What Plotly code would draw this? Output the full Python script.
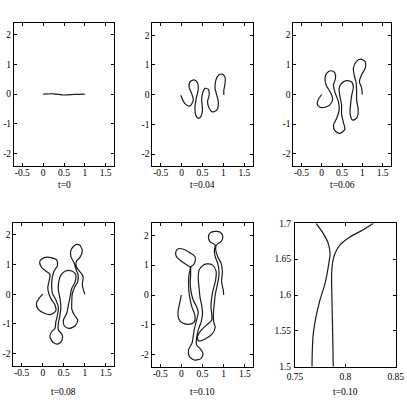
import plotly.graph_objects as go

W, H = 407, 402

# ---------------- data ----------------
# t = 0
x_t000 = [0.0, 0.25, 0.5, 0.75, 1.0]
y_t000 = [0.0, 0.01, -0.03, -0.01, 0.0]

# t = 0.04
x_t004 = [-0.02, 0.08, 0.20, 0.28, 0.24, 0.18, 0.20, 0.30, 0.38, 0.40, 0.36, 0.32, 0.34, 0.40,
          0.46, 0.50, 0.48, 0.50, 0.56, 0.64, 0.66, 0.62, 0.66, 0.73, 0.84, 0.88, 0.84, 0.80,
          0.82, 0.89, 0.97, 1.04, 1.04, 1.01, 1.01]
y_t004 = [-0.02, -0.30, -0.38, -0.18, 0.04, 0.25, 0.43, 0.50, 0.40, 0.21, -0.07, -0.41, -0.69, -0.80,
          -0.74, -0.52, -0.18, 0.04, 0.21, 0.18, -0.01, -0.24, -0.46, -0.58, -0.52, -0.29, -0.01, 0.21,
          0.49, 0.66, 0.69, 0.58, 0.38, 0.15, -0.01]

# t = 0.06
x_t006 = [0.0, -0.08, -0.11, -0.04, 0.08, 0.20, 0.27, 0.22, 0.12, 0.08, 0.12, 0.22, 0.32, 0.34,
          0.29, 0.33, 0.41, 0.43, 0.37, 0.29, 0.33, 0.45, 0.57, 0.53, 0.49, 0.49, 0.45, 0.43,
          0.49, 0.62, 0.74, 0.78, 0.74, 0.71, 0.70, 0.76, 0.86, 0.90, 0.86, 0.86, 0.85, 0.80,
          0.78, 0.85, 0.96, 1.07, 1.07, 0.98, 0.93, 0.98, 1.0]
y_t006 = [0.0, -0.16, -0.32, -0.43, -0.43, -0.35, -0.16, 0.06, 0.29, 0.51, 0.71, 0.80, 0.74, 0.55,
          0.32, 0.06, -0.24, -0.52, -0.80, -1.03, -1.23, -1.31, -1.17, -0.92, -0.66, -0.35, -0.07, 0.21,
          0.38, 0.47, 0.42, 0.24, -0.02, -0.35, -0.66, -0.86, -0.80, -0.52, -0.19, 0.10, 0.38, 0.66,
          0.88, 1.11, 1.19, 1.11, 0.88, 0.66, 0.43, 0.24, 0.0]

# t = 0.08
x_t008 = [0.0, -0.09, -0.15, -0.11, 0.04, 0.19, 0.31, 0.29, 0.21, 0.15, 0.12, 0.15, 0.17, 0.07,
          -0.04, -0.07, 0.04, 0.19, 0.33, 0.35, 0.27, 0.23, 0.21, 0.23, 0.31, 0.37, 0.35, 0.31,
          0.29, 0.21, 0.17, 0.25, 0.37, 0.46, 0.46, 0.37, 0.37, 0.41, 0.43, 0.41, 0.37, 0.38,
          0.43, 0.54, 0.69, 0.78, 0.77, 0.69, 0.65, 0.61, 0.57, 0.49, 0.51, 0.62, 0.77, 0.83,
          0.75, 0.69, 0.69, 0.70, 0.75, 0.83, 0.84, 0.78, 0.75, 0.67, 0.67, 0.78, 0.88, 0.94,
          0.88, 0.80, 0.80, 0.88, 0.96, 0.94, 1.0]
y_t008 = [0.0, -0.14, -0.31, -0.50, -0.64, -0.68, -0.56, -0.36, -0.19, 0.0, 0.22, 0.44, 0.67, 0.78,
          0.92, 1.11, 1.23, 1.23, 1.15, 0.96, 0.78, 0.59, 0.31, 0.03, -0.19, -0.42, -0.70, -0.94,
          -1.15, -1.26, -1.43, -1.62, -1.67, -1.54, -1.35, -1.20, -0.98, -0.70, -0.42, -0.14, 0.14, 0.42,
          0.64, 0.78, 0.78, 0.67, 0.42, 0.20, -0.08, -0.36, -0.64, -0.87, -1.06, -1.15, -1.06, -0.87,
          -0.70, -0.50, -0.25, 0.0, 0.22, 0.42, 0.64, 0.87, 1.04, 1.26, 1.48, 1.66, 1.64, 1.45,
          1.23, 1.11, 0.92, 0.76, 0.59, 0.31, 0.0]

# t = 0.10
x_t010 = [0.0, -0.04, -0.08, -0.06, 0.02, 0.18, 0.30, 0.32, 0.26, 0.21, 0.18, 0.17, 0.18, 0.21,
          0.15, 0.01, -0.12, -0.13, -0.07, 0.05, 0.21, 0.32, 0.33, 0.28, 0.23, 0.22, 0.21, 0.23,
          0.28, 0.36, 0.40, 0.36, 0.31, 0.28, 0.25, 0.17, 0.19, 0.32, 0.47, 0.51, 0.44, 0.36,
          0.36, 0.40, 0.47, 0.50, 0.48, 0.44, 0.42, 0.40, 0.42, 0.50, 0.60, 0.74, 0.82, 0.81,
          0.76, 0.72, 0.70, 0.72, 0.72, 0.60, 0.44, 0.38, 0.42, 0.56, 0.72, 0.80, 0.78, 0.76,
          0.76, 0.78, 0.80, 0.84, 0.88, 0.89, 0.86, 0.80, 0.78, 0.80, 0.68, 0.64, 0.68, 0.80,
          0.92, 0.98, 0.94, 0.84, 0.81, 0.86, 0.94, 0.97, 0.95, 0.99, 1.0]
y_t010 = [0.0, -0.28, -0.58, -0.80, -0.93, -0.98, -0.92, -0.67, -0.45, -0.17, 0.11, 0.39, 0.67, 0.93,
          0.99, 1.12, 1.30, 1.45, 1.55, 1.53, 1.41, 1.29, 1.14, 1.00, 0.95, 0.67, 0.39, 0.11,
          -0.17, -0.39, -0.58, -0.84, -1.12, -1.39, -1.62, -1.84, -2.06, -2.18, -2.12, -1.95, -1.79, -1.67,
          -1.45, -1.17, -0.89, -0.61, -0.34, -0.06, 0.22, 0.56, 0.84, 0.98, 1.04, 1.00, 0.80, 0.50,
          0.22, -0.06, -0.39, -0.67, -0.84, -1.00, -1.23, -1.45, -1.54, -1.47, -1.32, -1.08, -0.98, -0.84,
          -0.56, -0.28, 0.0, 0.28, 0.56, 0.78, 1.06, 1.28, 1.51, 1.67, 1.78, 1.93, 2.08, 2.13,
          2.10, 1.96, 1.79, 1.69, 1.56, 1.28, 1.06, 0.78, 0.45, 0.17, 0.0]

# t = 0.10, close-up
x_zoom_a = [0.7709, 0.778, 0.783, 0.7848, 0.783, 0.7798, 0.7748, 0.7709, 0.7682, 0.7672, 0.7669]
y_zoom_a = [1.70, 1.686, 1.672, 1.658, 1.639, 1.616, 1.593, 1.570, 1.547, 1.523, 1.50]
x_zoom_b = [0.8278, 0.8178, 0.8046, 0.7947, 0.7897, 0.7874, 0.7864, 0.7867, 0.7874, 0.788]
y_zoom_b = [1.70, 1.691, 1.681, 1.670, 1.658, 1.646, 1.630, 1.593, 1.547, 1.50]

titles = ["t=0", "t=0.04", "t=0.06", "t=0.08", "t=0.10", "t=0.10"]

main_xticks = [-0.5, 0, 0.5, 1, 1.5]
main_xtext = ["-0.5", "0", "0.5", "1", "1.5"]
main_yticks = [-2, -1, 0, 1, 2]
main_ytext = ["-2", "-1", "0", "1", "2"]
zoom_xticks = [0.75, 0.8, 0.85]
zoom_xtext = ["0.75", "0.8", "0.85"]
zoom_yticks = [1.5, 1.55, 1.6, 1.65, 1.7]
zoom_ytext = ["1.5", "1.55", "1.6", "1.65", "1.7"]

# ---------------- layout ----------------
# panel boxes in pixels: left, right, top, bottom
boxes = [
    (14.0, 114.0, 22.5, 165.7),
    (152.3, 252.7, 23.3, 166.0),
    (293.3, 390.7, 23.3, 165.7),
    (13.3, 114.3, 222.7, 365.7),
    (151.7, 253.3, 223.3, 366.7),
    (295.0, 395.7, 223.3, 366.7),
]
title_y = [185, 185, 185, 392, 392, 392]

LINE = dict(color="#1a1a1a", width=1.2, shape="spline", smoothing=0.8)
TICKFONT = dict(family="Liberation Serif, Times New Roman, serif", size=9.5, color="black")
TITLEFONT = dict(family="Liberation Serif, Times New Roman, serif", size=9.5, color="black")

series = [
    [(x_t000, y_t000)],
    [(x_t004, y_t004)],
    [(x_t006, y_t006)],
    [(x_t008, y_t008)],
    [(x_t010, y_t010)],
    [(x_zoom_a, y_zoom_a), (x_zoom_b, y_zoom_b)],
]

fig = go.Figure()
layout = dict(
    width=W, height=H, autosize=False,
    margin=dict(l=0, r=0, t=0, b=0, pad=0, autoexpand=False),
    paper_bgcolor="white", plot_bgcolor="white", showlegend=False,
    font=TICKFONT, annotations=[],
)

for i, (box, curves) in enumerate(zip(boxes, series)):
    n = i + 1
    xa = "x" if n == 1 else f"x{n}"
    ya = "y" if n == 1 else f"y{n}"
    for cx, cy in curves:
        fig.add_trace(go.Scatter(x=cx, y=cy, mode="lines", line=LINE,
                                 xaxis=xa, yaxis=ya, hoverinfo="skip"))
    l, r, t, b = box
    is_zoom = (i == 5)
    common = dict(showline=True, linecolor="black", linewidth=1, mirror="ticks",
                  ticks="inside", ticklen=3, tickwidth=1, tickcolor="black",
                  showgrid=False, zeroline=False, tickfont=TICKFONT, fixedrange=True,
                  automargin=False)
    xaxis = dict(common, domain=[l / W, r / W], anchor=ya, tickmode="array",
                 ticklabelstandoff=1 if is_zoom else -2,
                 range=[0.75, 0.85] if is_zoom else [-0.7, 1.7],
                 tickvals=zoom_xticks if is_zoom else main_xticks,
                 ticktext=zoom_xtext if is_zoom else main_xtext)
    yaxis = dict(common, domain=[1 - b / H, 1 - t / H], anchor=xa, tickmode="array",
                 ticklabelstandoff=1 if is_zoom else 0,
                 range=[1.5, 1.7] if is_zoom else [-2.4, 2.4],
                 tickvals=zoom_yticks if is_zoom else main_yticks,
                 ticktext=zoom_ytext if is_zoom else main_ytext)
    layout["xaxis" if n == 1 else f"xaxis{n}"] = xaxis
    layout["yaxis" if n == 1 else f"yaxis{n}"] = yaxis
    layout["annotations"].append(dict(
        text=titles[i], x=(l + r) / 2 / W, y=1 - title_y[i] / H,
        xref="paper", yref="paper", showarrow=False,
        xanchor="center", yanchor="middle", font=TITLEFONT))

fig.update_layout(**layout)
fig.write_html("out.html", config={"displayModeBar": False},
               post_script="document.body.style.margin='0px';")
